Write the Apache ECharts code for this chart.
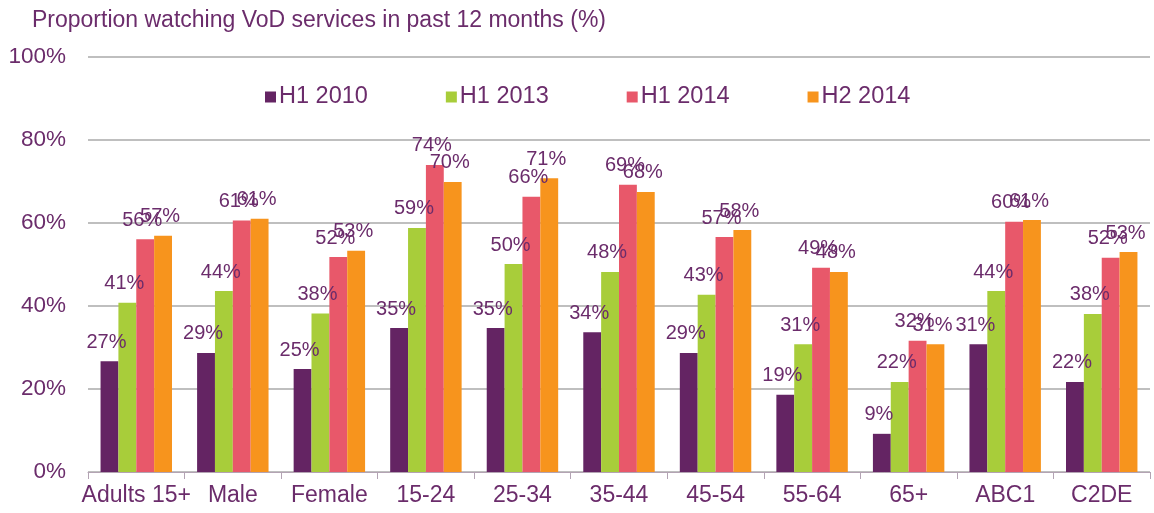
<!DOCTYPE html>
<html lang="en">
    <head>
        <meta charset="utf-8" />
        <title>VoD viewing</title>
        <style type="text/css">
            html, body { margin: 0; padding: 0; background: #ffffff; }
            #chart { width: 1154px; height: 513px; }
        </style>
    </head>
    <body>
        <div id="chart"></div>
        <script src="https://cdn.jsdelivr.net/npm/echarts@6.0.0/dist/echarts.min.js"></script>
        <script>
            const categories = ['Adults 15+', 'Male', 'Female', '15-24', '25-34', '35-44', '45-54', '55-64', '65+', 'ABC1', 'C2DE'];
            const seriesNames = ['H1 2010', 'H1 2013', 'H1 2014', 'H2 2014'];
            const h1_2010 = [26.7, 28.7, 24.8, 34.7, 34.7, 33.7, 28.7, 18.6, 9.2, 30.8, 21.7];
            const h1_2013 = [40.8, 43.6, 38.2, 58.8, 50.1, 48.2, 42.7, 30.8, 21.7, 43.6, 38.1];
            const h1_2014 = [56.1, 60.6, 51.8, 74.0, 66.3, 69.2, 56.6, 49.2, 31.6, 60.3, 51.6];
            const h2_2014 = [56.9, 61.0, 53.3, 69.9, 70.8, 67.5, 58.3, 48.2, 30.8, 60.7, 53.0];
            const yTicks = [0, 20, 40, 60, 80, 100];

            const colors = ['#642463', '#a8cd3a', '#e8586a', '#f7941d'];
            const textColor = '#6b2c6b';
            const font = 'Liberation Sans, Arial, sans-serif';

            let chart = echarts.init(document.querySelector('#chart'), null, { renderer: 'canvas' });

            const makeSeries = (name, values, i) => {
                return {
                    name: name,
                    type: 'bar',
                    data: values,
                    barGap: '0%',
                    barCategoryGap: '26%',
                    itemStyle: { color: colors[i] },
                    label: {
                        show: true,
                        position: 'top',
                        distance: 9,
                        offset: [-3, 0],
                        color: textColor,
                        fontFamily: font,
                        fontSize: 20,
                        formatter: (p) => Math.round(p.value) + '%'
                    }
                };
            };

            const option = {
                animation: false,
                color: colors,
                title: {
                    text: 'Proportion watching VoD services in past 12 months (%)',
                    left: 27,
                    top: 4,
                    textStyle: { color: textColor, fontFamily: font, fontSize: 23, fontWeight: 'normal' }
                },
                legend: {
                    data: seriesNames,
                    top: 80,
                    left: 260,
                    itemWidth: 11,
                    itemHeight: 11,
                    itemGap: 78,
                    icon: 'rect',
                    textStyle: { color: textColor, fontFamily: font, fontSize: 23.5, padding: [0, 0, 0, -2] }
                },
                grid: { left: 88, right: 4, top: 57, bottom: 41, containLabel: false },
                xAxis: {
                    type: 'category',
                    data: categories,
                    axisLine: { lineStyle: { color: '#b3a3b3', width: 1 } },
                    axisTick: { show: true, length: 7, lineStyle: { color: '#b3a3b3' } },
                    axisLabel: { interval: 0, color: textColor, fontFamily: font, fontSize: 23, margin: 12 }
                },
                yAxis: {
                    type: 'value',
                    min: yTicks[0],
                    max: yTicks[yTicks.length - 1],
                    interval: 20,
                    axisLine: { show: false },
                    axisTick: { show: false },
                    axisLabel: { color: textColor, fontFamily: font, fontSize: 22.5, margin: 22, formatter: '{value}%' },
                    splitLine: { lineStyle: { color: '#bfbfbf', width: 2 } }
                },
                series: [
                    makeSeries(seriesNames[0], h1_2010, 0),
                    makeSeries(seriesNames[1], h1_2013, 1),
                    makeSeries(seriesNames[2], h1_2014, 2),
                    makeSeries(seriesNames[3], h2_2014, 3)
                ]
            };

            chart.setOption(option);
        </script>
    </body>
</html>
